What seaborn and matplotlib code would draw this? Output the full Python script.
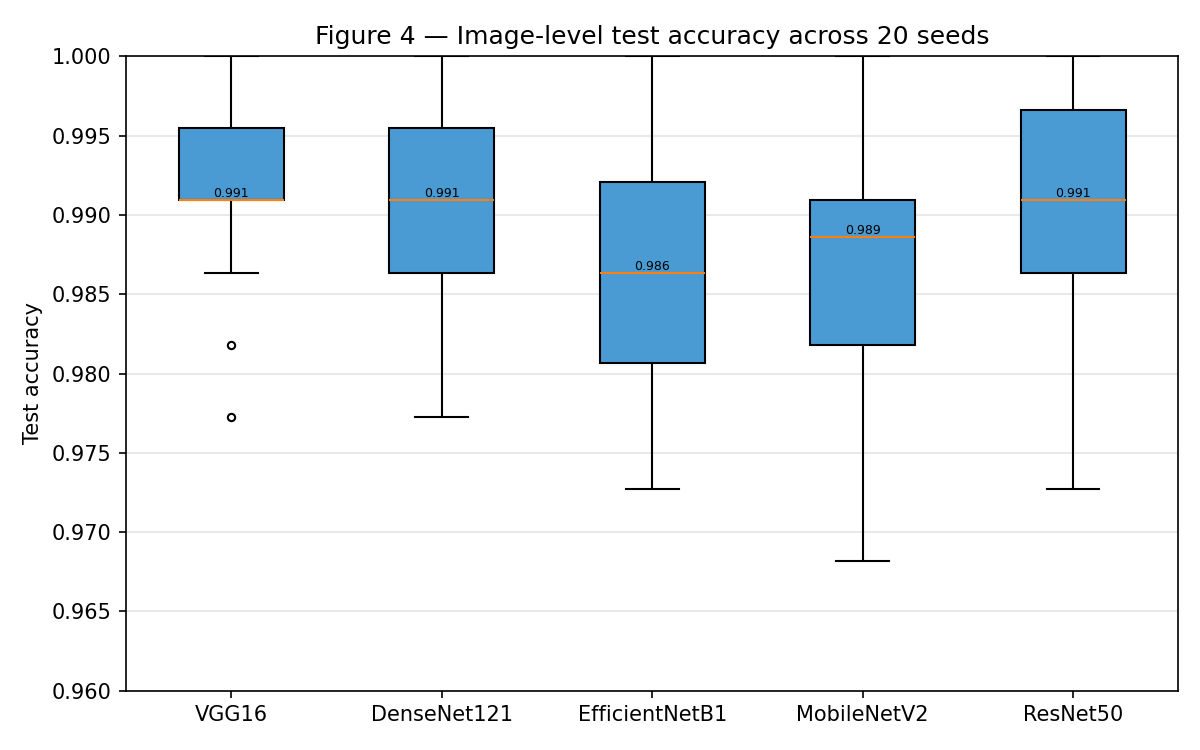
import numpy as np
import pandas as pd
import matplotlib
matplotlib.use("Agg")
import matplotlib.pyplot as plt
import seaborn as sns

N_TEST = 220
models = ["VGG16", "DenseNet121", "EfficientNetB1", "MobileNetV2", "ResNet50"]
vgg16 = [215, 216, 217, 218, 218, 218, 218, 218, 218, 218, 218, 219, 219, 219, 219, 219, 219, 219, 220, 220]
densenet121 = [215, 216, 216, 217, 217, 217, 217, 218, 218, 218, 218, 218, 219, 219, 219, 219, 219, 220, 220, 220]
efficientnetb1 = [214, 214, 215, 215, 215, 216, 216, 216, 217, 217, 217, 217, 218, 218, 218, 219, 219, 219, 220, 220]
mobilenetv2 = [213, 214, 215, 216, 216, 216, 216, 216, 217, 217, 218, 218, 218, 218, 218, 218, 219, 219, 220, 220]
resnet50 = [214, 215, 216, 217, 217, 217, 217, 218, 218, 218, 218, 218, 219, 219, 219, 220, 220, 220, 220, 220]
correct_counts = [vgg16, densenet121, efficientnetb1, mobilenetv2, resnet50]

rows = []
for m, counts in zip(models, correct_counts):
    for c in counts:
        rows.append({"model": m, "acc": c / N_TEST})
df = pd.DataFrame(rows)

plt.rcParams["font.family"] = ["DejaVu Sans"]

fig = plt.figure(figsize=(8, 5), dpi=150)
ax = fig.add_axes([0.105, 0.079, 0.877, 0.846])

sns.boxplot(
    data=df, x="model", y="acc", order=models, ax=ax, width=0.5, whis=1.51,
    color="#4a9bd4", saturation=1,
    boxprops=dict(edgecolor="black", linewidth=1.0, facecolor="#4a9bd4"),
    whiskerprops=dict(color="black", linewidth=1.0),
    capprops=dict(color="black", linewidth=1.0),
    medianprops=dict(color="#ff7f0e", linewidth=1.0),
    flierprops=dict(marker="o", markersize=3.5, markerfacecolor="none",
                    markeredgecolor="black", markeredgewidth=1.0),
)

for i, m in enumerate(models):
    med = np.median(df.loc[df.model == m, "acc"])
    ax.text(i, med, f"{med:.3f}", ha="center", va="bottom", fontsize=6, color="black")

ax.set_ylim(0.960, 1.000)
ax.set_yticks(np.arange(0.960, 1.0001, 0.005))
ax.yaxis.set_major_formatter(matplotlib.ticker.FormatStrFormatter("%.3f"))
ax.yaxis.grid(True, color="#e5e5e5", linewidth=0.8)
ax.xaxis.grid(False)
ax.set_axisbelow(True)
ax.set_xlabel("")
ax.set_ylabel("Test accuracy", fontsize=10)
ax.set_title("Figure 4 — Image-level test accuracy across 20 seeds", fontsize=12)
ax.tick_params(axis="both", labelsize=10, colors="black")
for s in ax.spines.values():
    s.set_color("black")
    s.set_linewidth(0.8)

fig.savefig("out.png", dpi=150)
